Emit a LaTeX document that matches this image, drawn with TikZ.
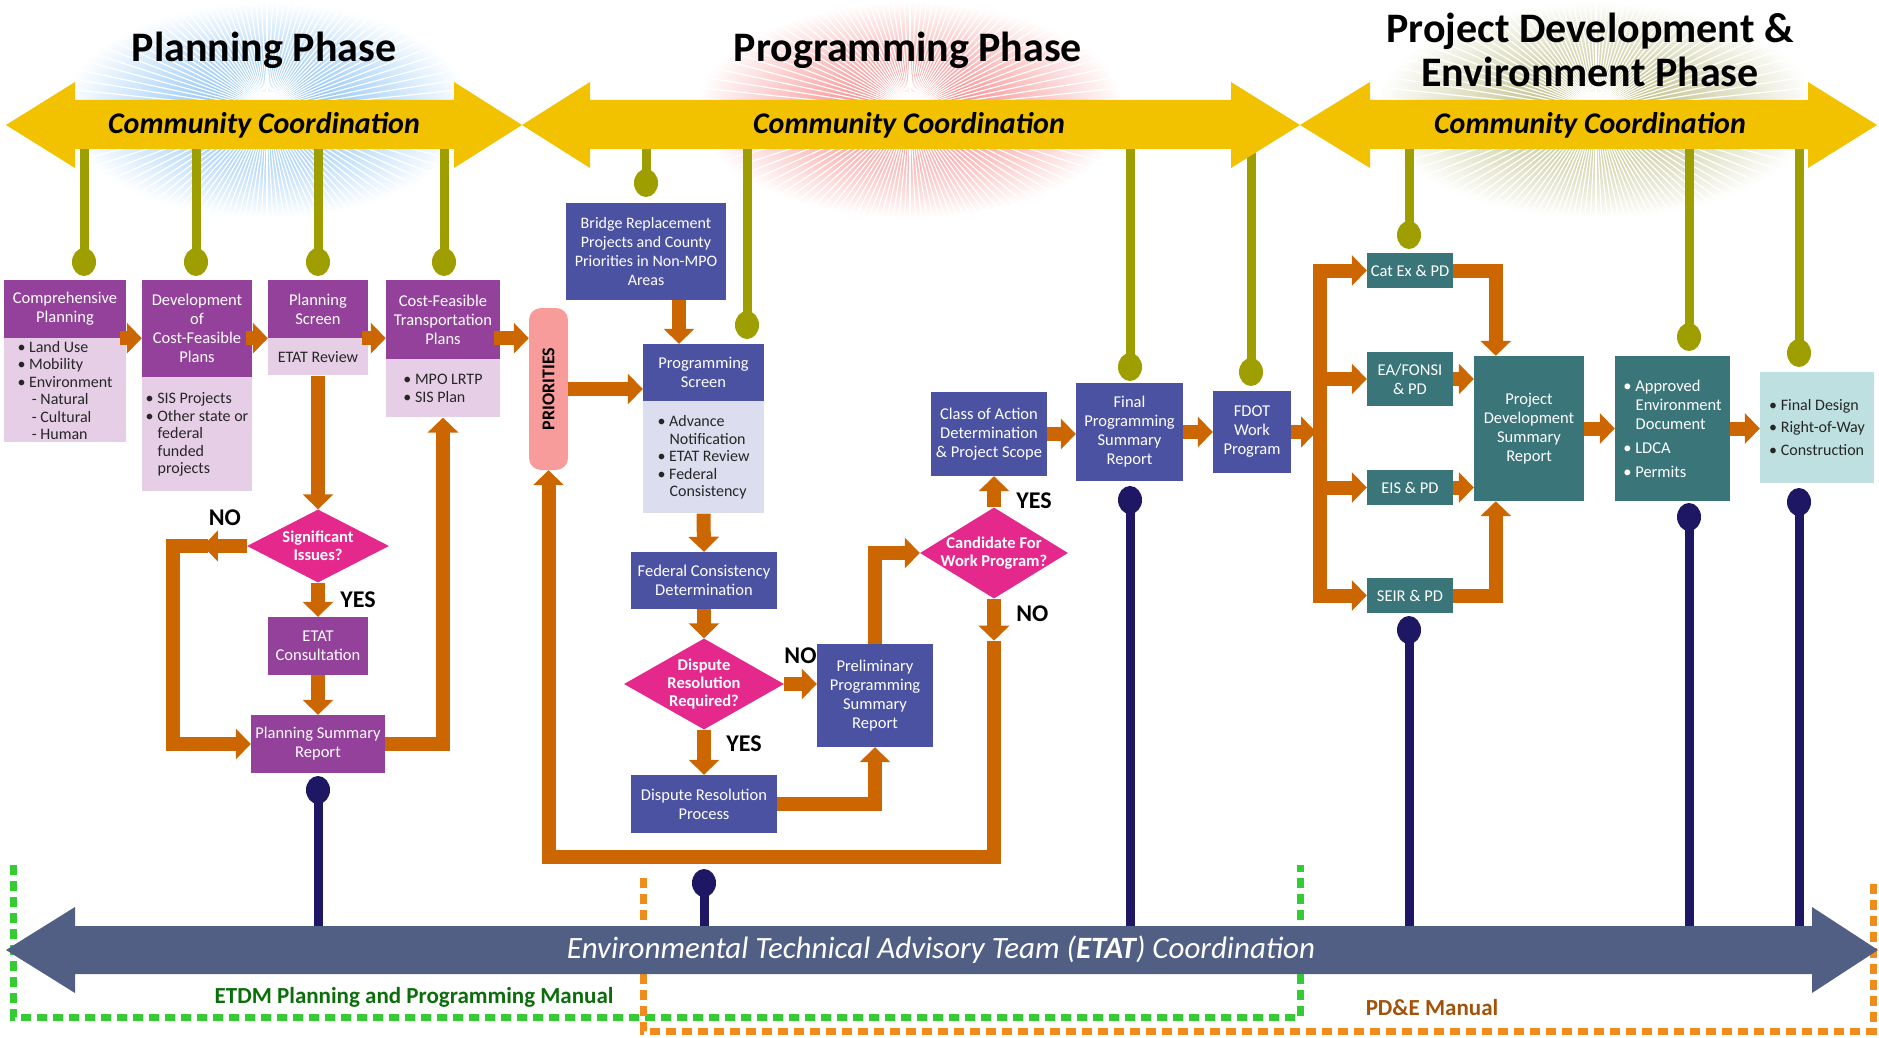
\documentclass[tikz,border=0pt]{standalone}
\usepackage{fontspec}
\setmainfont{Carlito}
\usetikzlibrary{arrows.meta,shapes.geometric,positioning,calc}

\definecolor{planpurple}{RGB}{147,65,154}
\definecolor{planlight}{RGB}{231,206,231}
\definecolor{progblue}{RGB}{75,82,161}
\definecolor{proglight}{RGB}{220,221,238}
\definecolor{pdeteal}{RGB}{57,117,121}
\definecolor{pdelight}{RGB}{190,224,224}
\definecolor{decpink}{RGB}{228,40,140}
\definecolor{priopink}{RGB}{248,155,155}
\definecolor{floworange}{RGB}{204,102,0}
\definecolor{bandyellow}{RGB}{242,194,0}
\definecolor{stemolive}{RGB}{158,158,0}
\definecolor{stemnavy}{RGB}{30,23,99}
\definecolor{etatslate}{RGB}{81,95,133}
\definecolor{etdmgreen}{RGB}{11,110,11}
\definecolor{etdmdash}{RGB}{51,204,51}
\definecolor{pdedash}{RGB}{240,140,30}
\definecolor{pdebrown}{RGB}{163,82,10}
\definecolor{glowblue}{RGB}{110,180,245}
\definecolor{glowred}{RGB}{248,110,110}
\definecolor{glowolive}{RGB}{175,175,105}

\begin{document}
\begin{tikzpicture}[x=1pt,y=-1pt,>={Triangle[width=30pt,length=15pt]},
    box/.style={rectangle,inner sep=2pt,align=center,text=white,font=\fontsize{16.5}{19}\selectfont},
    plan/.style={box,fill=planpurple},
    prog/.style={box,fill=progblue},
    pde/.style={box,fill=pdeteal},
    list/.style={box,text=black!85,align=left,font=\fontsize{16}{17.5}\selectfont},
    decision/.style={diamond,aspect=1,inner sep=0pt,fill=decpink},
    dtext/.style={text=white,align=center,font=\bfseries\fontsize{16.5}{18}\selectfont},
    answer/.style={font=\bfseries\fontsize{24}{24}\selectfont},
    flow/.style={->,draw=floworange,line width=14pt},
    ostem/.style={draw=stemolive,line width=9pt},
    nstem/.style={draw=stemnavy,line width=9pt},
    band/.style={font=\bfseries\itshape\fontsize{30}{30}\selectfont},
    phase/.style={align=center,font=\bfseries\fontsize{42}{44}\selectfont}]

\useasboundingbox (0,0) rectangle (1879,1038);

\shade[inner color=glowblue,outer color=white] (267,110) ellipse (205 and 108);
\shade[inner color=glowred,outer color=white] (910,110) ellipse (215 and 108);
\shade[inner color=glowolive,outer color=white] (1596,110) ellipse (220 and 108);
\begin{scope}
  \clip (267,110) ellipse (205 and 108);
  \foreach \a in {0,3,...,357} \draw[white,line width=1.2pt] (267,110) -- ++(\a:260);
\end{scope}
\begin{scope}
  \clip (910,110) ellipse (215 and 108);
  \foreach \a in {0,3,...,357} \draw[white,line width=1.2pt] (910,110) -- ++(\a:260);
\end{scope}
\begin{scope}
  \clip (1596,110) ellipse (220 and 108);
  \foreach \a in {0,3,...,357} \draw[white,line width=1.2pt] (1596,110) -- ++(\a:260);
\end{scope}

\node[phase] (plantitle) at (264,50) {Planning Phase};
\node[phase] (progtitle) at (908,50) {Programming Phase};
\node[phase] (pdetitle) at (1590,50) {Project Development \&\\Environment Phase};

\foreach \x/\y in {84/262,196/262,318/262,444/262,646/183,747/325,1130/367,1251/372,1409/235,1689/337,1799/353}
  {\draw[ostem] (\x,140) -- (\x,\y); \fill[stemolive] (\x,\y) ellipse (12 and 14);}
\foreach \x/\y in {318/790,704/883,1130/500,1409/630,1689/517,1799/502}
  {\draw[nstem] (\x,\y) -- (\x,935); \fill[stemnavy] (\x,\y) ellipse (12 and 14);}

\draw[etdmdash,line width=7pt,dash pattern=on 10pt off 6pt] (13,865) |- (1300,1017) -- (1300,865);
\draw[pdedash,line width=7pt,dash pattern=on 10pt off 6pt] (643,878) |- (1873,1031) -- (1873,878);
\node[anchor=east,text=etdmgreen,font=\bfseries\fontsize{23}{23}\selectfont] (etdm) at (617,997) {ETDM Planning and Programming Manual};
\node[text=pdebrown,font=\bfseries\fontsize{23}{23}\selectfont] (pdeman) at (1432,1008) {PD\&E Manual};

\fill[bandyellow] (6,125) -- (75,82) -- (75,100) -- (454,100) -- (454,82) -- (522,125) -- (454,168) -- (454,149) -- (75,149) -- (75,168) -- cycle;
\fill[bandyellow] (522,125) -- (590,82) -- (590,100) -- (1231,100) -- (1231,82) -- (1300,125) -- (1231,168) -- (1231,149) -- (590,149) -- (590,168) -- cycle;
\fill[bandyellow] (1300,125) -- (1370,82) -- (1370,100) -- (1808,100) -- (1808,82) -- (1877,125) -- (1808,168) -- (1808,149) -- (1370,149) -- (1370,168) -- cycle;
\node[band] (comm1) at (264,125) {Community Coordination};
\node[band] (comm2) at (909,125) {Community Coordination};
\node[band] (comm3) at (1590,125) {Community Coordination};

\fill[etatslate] (6,950) -- (75,907) -- (75,926) -- (1812,926) -- (1812,907) -- (1878,950) -- (1812,993) -- (1812,974) -- (75,974) -- (75,993) -- cycle;
\node[text=white,font=\itshape\fontsize{31}{31}\selectfont] (etat) at (941,950) {Environmental Technical Advisory Team (\textbf{ETAT}) Coordination};

\node[plan,minimum width=122pt,minimum height=58pt] (comph) at (65,309) {Comprehensive\\Planning};
\node[list,fill=planlight,minimum width=122pt,minimum height=104pt,below=0pt of comph] (compb)
  {\textbullet~Land Use\\\textbullet~Mobility\\\textbullet~Environment\\\hspace*{0.9em}- Natural\\\hspace*{0.9em}- Cultural\\\hspace*{0.9em}- Human};
\node[plan,minimum width=110pt,minimum height=97pt] (devh) at (197,328.5) {Development\\of\\Cost-Feasible\\Plans};
\node[list,fill=planlight,minimum width=110pt,minimum height=114pt,below=0pt of devh] (devb)
  {\textbullet~SIS Projects\\\textbullet~Other state or\\\hspace*{0.75em}federal\\\hspace*{0.75em}funded\\\hspace*{0.75em}projects};
\node[plan,minimum width=100pt,minimum height=58pt] (psh) at (318,309) {Planning\\Screen};
\node[list,fill=planlight,align=center,minimum width=100pt,minimum height=37pt,below=0pt of psh] (psb) {ETAT Review};
\node[plan,minimum width=114pt,minimum height=79pt] (cfh) at (443,319.5) {Cost-Feasible\\Transportation\\Plans};
\node[list,fill=planlight,minimum width=114pt,minimum height=58pt,below=0pt of cfh] (cfb) {\textbullet~MPO LRTP\\\textbullet~SIS Plan};
\node[decision,minimum width=142pt,minimum height=73pt] (sig) at (318,546) {};
\node[dtext] (sigtxt) at (sig) {Significant\\Issues?};
\node[plan,minimum width=100pt,minimum height=58pt] (etatc) at (318,646) {ETAT\\Consultation};
\node[plan,minimum width=134pt,minimum height=58pt] (psr) at (318,744) {Planning Summary\\Report};

\node[rectangle,rounded corners=12pt,fill=priopink,minimum width=39pt,minimum height=162pt] (prio) at (548.5,389) {};
\node[rotate=90,font=\bfseries\fontsize{18}{18}\selectfont] (priotxt) at (prio) {PRIORITIES};
\node[prog,minimum width=160pt,minimum height=97pt,font=\fontsize{16}{19}\selectfont] (bridge) at (646,251.5) {Bridge Replacement\\Projects and County\\Priorities in Non-MPO\\Areas};
\node[prog,minimum width=121pt,minimum height=57pt] (pgh) at (703.5,372.5) {Programming\\Screen};
\node[list,fill=proglight,minimum width=121pt,minimum height=112pt,below=0pt of pgh] (pgb)
  {\textbullet~Advance\\\hspace*{0.75em}Notification\\\textbullet~ETAT Review\\\textbullet~Federal\\\hspace*{0.75em}Consistency};
\node[prog,minimum width=146pt,minimum height=57pt] (fedc) at (704,580.5) {Federal Consistency\\Determination};
\node[decision,minimum width=160pt,minimum height=91pt] (drr) at (704,684) {};
\node[dtext] (drrtxt) at (drr) {Dispute\\Resolution\\Required?};
\node[prog,minimum width=116pt,minimum height=103pt] (prel) at (875,695.5) {Preliminary\\Programming\\Summary\\Report};
\node[prog,minimum width=146pt,minimum height=58pt] (drp) at (704,804) {Dispute Resolution\\Process};
\node[decision,minimum width=148pt,minimum height=91pt] (cand) at (994,553) {};
\node[dtext] (candtxt) at (cand) {Candidate For\\Work Program?};
\node[prog,minimum width=116pt,minimum height=84pt] (clsa) at (989,434) {Class of Action\\Determination\\\& Project Scope};
\node[prog,minimum width=107pt,minimum height=98pt] (fps) at (1129.5,432) {Final\\Programming\\Summary\\Report};
\node[prog,minimum width=78pt,minimum height=82pt] (fdot) at (1252,432) {FDOT\\Work\\Program};

\node[pde,minimum width=86pt,minimum height=35pt] (catex) at (1410,270.5) {Cat Ex \& PD};
\node[pde,minimum width=86pt,minimum height=54pt] (eafonsi) at (1410,379) {EA/FONSI\\\& PD};
\node[pde,minimum width=86pt,minimum height=35pt] (eis) at (1410,487.5) {EIS \& PD};
\node[pde,minimum width=86pt,minimum height=35pt] (seir) at (1410,595.5) {SEIR \& PD};
\node[pde,minimum width=110pt,minimum height=145pt] (pdsr) at (1529,428.5) {Project\\Development\\Summary\\Report};
\node[pde,align=left,minimum width=115pt,minimum height=145pt] (appr) at (1672.5,428.5)
  {\textbullet~Approved\\\hspace*{0.75em}Environment\\\hspace*{0.75em}Document\\[5pt]\textbullet~LDCA\\[5pt]\textbullet~Permits};
\node[list,fill=pdelight,minimum width=114pt,minimum height=111pt] (fdes) at (1817,427.5)
  {\textbullet~Final Design\\[5pt]\textbullet~Right-of-Way\\[5pt]\textbullet~Construction};

\draw[flow] ($(comph.south east)+(-6,0)$) -- (comph.south east -| devh.west);
\draw[flow] ($(devh.east |- psh.south)+(-6,0)$) -- (psh.south west);
\draw[flow] ($(psh.south east)+(-6,0)$) -- (psh.south east -| cfh.west);
\draw[flow] ($(cfh.east |- psh.south)+(-6,0)$) -- (prio.west |- psh.south);
\draw[flow] (psb.south) -- (sig.north);
\draw[flow] (sig.south) -- node[answer,right=12pt] (yes1) {YES} (etatc.north);
\draw[flow] (etatc.south) -- (psr.north);
\draw[flow] (sig.west) -- node[answer,above=10pt] (no1) {NO} ++(-44,0);
\draw[flow] ($(sig.west)+(-39,0)$) -- ($(sig.west)+(-74,0)$) |- (psr.west);
\draw[flow] (psr.east) -| (cfb.south);

\coordinate (bdrop) at ($(bridge.south)+(33,0)$);
\draw[flow] (bdrop) -- (bdrop |- pgh.north);
\draw[flow] (prio.east) -- (prio.east -| pgh.west);
\draw[flow] (pgb.south) -- (fedc.north);
\draw[flow] (fedc.south) -- (drr.north);
\draw[flow] (drr.east) -- node[answer,above=10pt] (no2) {NO} (drr.east -| prel.west);
\draw[flow] (drr.south) -- node[answer,right=12pt,pos=0.3] (yes2) {YES} (drp.north);
\draw[flow] (drp.east) -| (prel.south);
\draw[flow] (prel.north) |- (cand.west);
\draw[flow] (cand.north) -- node[answer,right=12pt,pos=0.2] (yes3) {YES} (cand.north |- clsa.south);
\draw[flow] (cand.south) -- node[answer,right=12pt,pos=0.35] (no3) {NO} ++(0,42) coordinate (candno);
\draw[flow] (candno) -- (candno |- 0,857) -| (prio.south);
\draw[flow] (clsa.east) -- (clsa.east -| fps.west);
\draw[flow] (fps.east) -- (fps.east -| fdot.west);

\coordinate[right=29pt of fdot.east] (split);
\draw[flow] (split) |- (catex.west);
\draw[flow] (split) |- (eafonsi.west);
\draw[flow] (split) |- (eis.west);
\draw[flow] (split) |- (seir.west);
\draw[flow] (fdot.east) -- ($(split)+(-4,0)$);
\draw[flow] (catex.east) -| ($(pdsr.north west)+(22,0)$);
\draw[flow] (eafonsi.east) -- (eafonsi.east -| pdsr.west);
\draw[flow] (eis.east) -- (eis.east -| pdsr.west);
\draw[flow] (seir.east) -| ($(pdsr.south west)+(22,0)$);
\draw[flow] (pdsr.east) -- (appr.west);
\draw[flow] (appr.east) -- (appr.east -| fdes.west);

\end{tikzpicture}
\end{document}
